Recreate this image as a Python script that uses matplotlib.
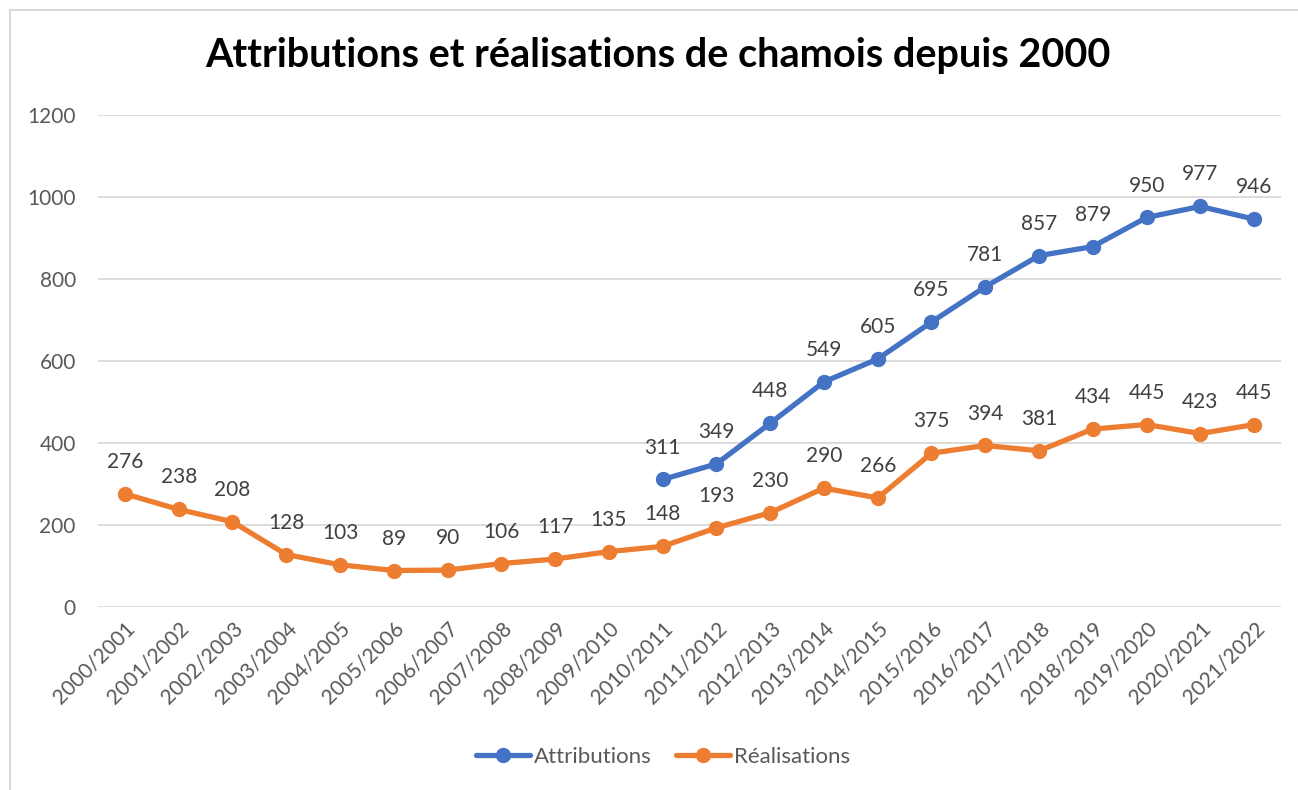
import numpy as np
import matplotlib.pyplot as plt
from matplotlib.patches import Rectangle

saisons = [f"{y}/{y + 1}" for y in range(2000, 2022)]
attributions = [np.nan] * 10 + [311, 349, 448, 549, 605, 695, 781, 857, 879, 950, 977, 946]
realisations = [276, 238, 208, 128, 103, 89, 90, 106, 117, 135, 148,
                193, 230, 290, 266, 375, 394, 381, 434, 445, 423, 445]

bleu = "#4472C4"
orange = "#ED7D31"
gris = "#595959"

plt.rcParams['font.family'] = ['Lato', 'DejaVu Sans']

fig = plt.figure(figsize=(12.98, 7.90), dpi=100)
# cadre du graphique
fig.patches.append(Rectangle((10 / 1298, -0.1), 1.2, 1 - 10 / 790 + 0.1,
                             transform=fig.transFigure, fill=False,
                             edgecolor="#D9D9D9", linewidth=1.5))

ax = fig.add_axes([98 / 1298, 1 - 607 / 790, (1281 - 98) / 1298, (607 - 115) / 790])
x = np.arange(len(saisons))

ax.plot(x, attributions, color=bleu, lw=3.8, marker="o", ms=10,
        label="Attributions", solid_capstyle="round", zorder=3)
ax.plot(x, realisations, color=orange, lw=3.8, marker="o", ms=10,
        label="Réalisations", solid_capstyle="round", zorder=3)

for serie in (attributions, realisations):
    for xi, v in zip(x, serie):
        if np.isnan(v):
            continue
        ax.annotate(f"{int(v)}", (xi, v), xytext=(0, 23), textcoords="offset points",
                    ha="center", va="center", fontsize=15, color="#404040")

ax.set_xlim(-0.5, len(saisons) - 0.5)
ax.set_ylim(0, 1200)
ax.set_yticks(range(0, 1201, 200))
ax.set_xticks(x)
ax.set_xticklabels(saisons, rotation=45, ha="right", rotation_mode="anchor")
ax.tick_params(axis="both", length=0, labelsize=15, labelcolor=gris)
ax.tick_params(axis="y", pad=16)
ax.tick_params(axis="x", pad=8)
ax.grid(axis="y", color="#D9D9D9", lw=1.3)
ax.set_axisbelow(True)
for s in ax.spines.values():
    s.set_visible(False)

fig.text(0.507, 1 - 56 / 790, "Attributions et réalisations de chamois depuis 2000",
         ha="center", va="center", fontsize=28.5, fontweight="bold")

fig.legend(loc="center", bbox_to_anchor=(0.511, 1 - 757 / 790), ncol=2, frameon=False,
           fontsize=16, labelcolor=gris, handlelength=2.4, columnspacing=1.1,
           handletextpad=0.2)

fig.savefig("out.png", dpi=100)
